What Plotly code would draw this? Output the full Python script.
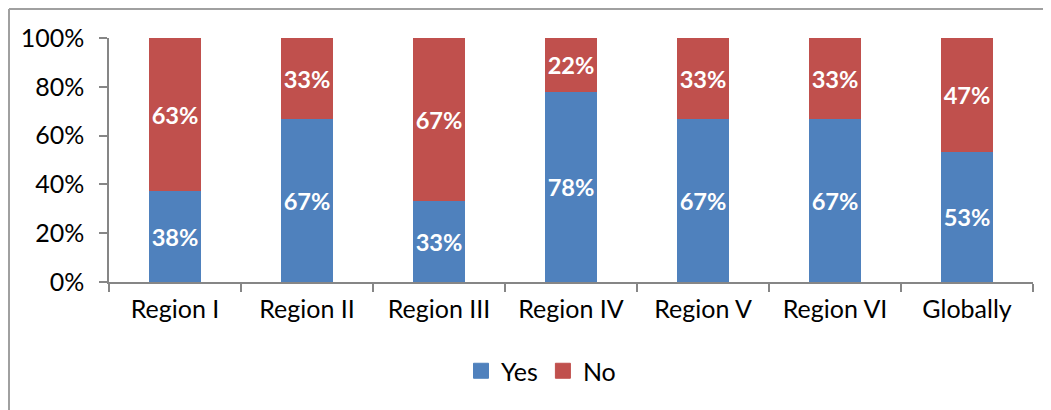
import plotly.graph_objects as go

categories = ["Region I", "Region II", "Region III", "Region IV", "Region V", "Region VI", "Globally"]
yes_values = [37.5, 66.7, 33.3, 77.8, 66.7, 66.7, 53.3]
no_values = [62.5, 33.3, 66.7, 22.2, 33.3, 33.3, 46.7]
yes_labels = ["38%", "67%", "33%", "78%", "67%", "67%", "53%"]
no_labels = ["63%", "33%", "67%", "22%", "33%", "33%", "47%"]
y_ticks = [0, 20, 40, 60, 80, 100]
y_tick_labels = ["0%", "20%", "40%", "60%", "80%", "100%"]
series_names = ["Yes", "No"]

FONT = "Lato"
BLUE = "#4F81BD"
RED = "#C0504D"
AXIS = "#868686"

fig = go.Figure()
for vals, labs, col, name in [(yes_values, yes_labels, BLUE, series_names[0]),
                              (no_values, no_labels, RED, series_names[1])]:
    fig.add_trace(go.Bar(
        x=categories, y=vals, name=name, marker=dict(color=col, line=dict(width=0)),
        text=labs, textposition="inside", insidetextanchor="middle",
        textfont=dict(family=FONT, size=24, color="white", weight="bold"),
        textangle=0, hoverinfo="skip", showlegend=False))
# legend entries with square swatches
for col, name in [(BLUE, series_names[0]), (RED, series_names[1])]:
    fig.add_trace(go.Scatter(
        x=[None], y=[None], mode="markers", name=name,
        marker=dict(symbol="square", size=15, color=col, line=dict(color=col, width=1)),
        showlegend=True))

# page offsets the figure by 8px; the figure's own edge is the frame
L, R, T, B = 101, 26, 30, 136
W, H = 1051, 410
pw, ph = W - L - R, H - T - B

fig.update_layout(
    width=W, height=H, barmode="stack", bargap=0.6,
    margin=dict(l=L, r=R, t=T, b=B, autoexpand=False),
    paper_bgcolor="white", plot_bgcolor="white",
    font=dict(family=FONT, size=25, color="black"),
    uniformtext=dict(mode=False),
    showlegend=True,
    legend=dict(orientation="h", x=(453 - L) / pw, xanchor="left", y=(274 - 363) / ph, yanchor="middle",
                font=dict(family=FONT, size=25), itemwidth=30, traceorder="normal"),
)
fig.update_xaxes(
    showline=True, linecolor=AXIS, linewidth=1.5, showgrid=False,
    ticks="outside", tickson="boundaries", ticklen=8, tickcolor=AXIS, tickwidth=1.5,
    ticklabelstandoff=4, tickfont=dict(family=FONT, size=25))
fig.update_yaxes(
    range=[0, 100], tickmode="array", tickvals=y_ticks, ticktext=y_tick_labels,
    showline=True, linecolor=AXIS, linewidth=1.5,
    showgrid=False, zeroline=False, ticks="outside", ticklen=8, tickcolor=AXIS, tickwidth=1.5,
    ticklabelstandoff=10, tickfont=dict(family=FONT, size=25))

# outer frame (top and left edges of the figure)
x_left = (1 - L) / pw
y_top = (ph + T - 1) / ph
fig.add_shape(type="line", xref="paper", yref="paper", x0=x_left, x1=1.2, y0=y_top, y1=y_top,
              line=dict(color="#A0A0A0", width=2))
fig.add_shape(type="line", xref="paper", yref="paper", x0=x_left, x1=x_left, y0=y_top, y1=-1,
              line=dict(color="#A0A0A0", width=2))

fig.write_html("out.html")
